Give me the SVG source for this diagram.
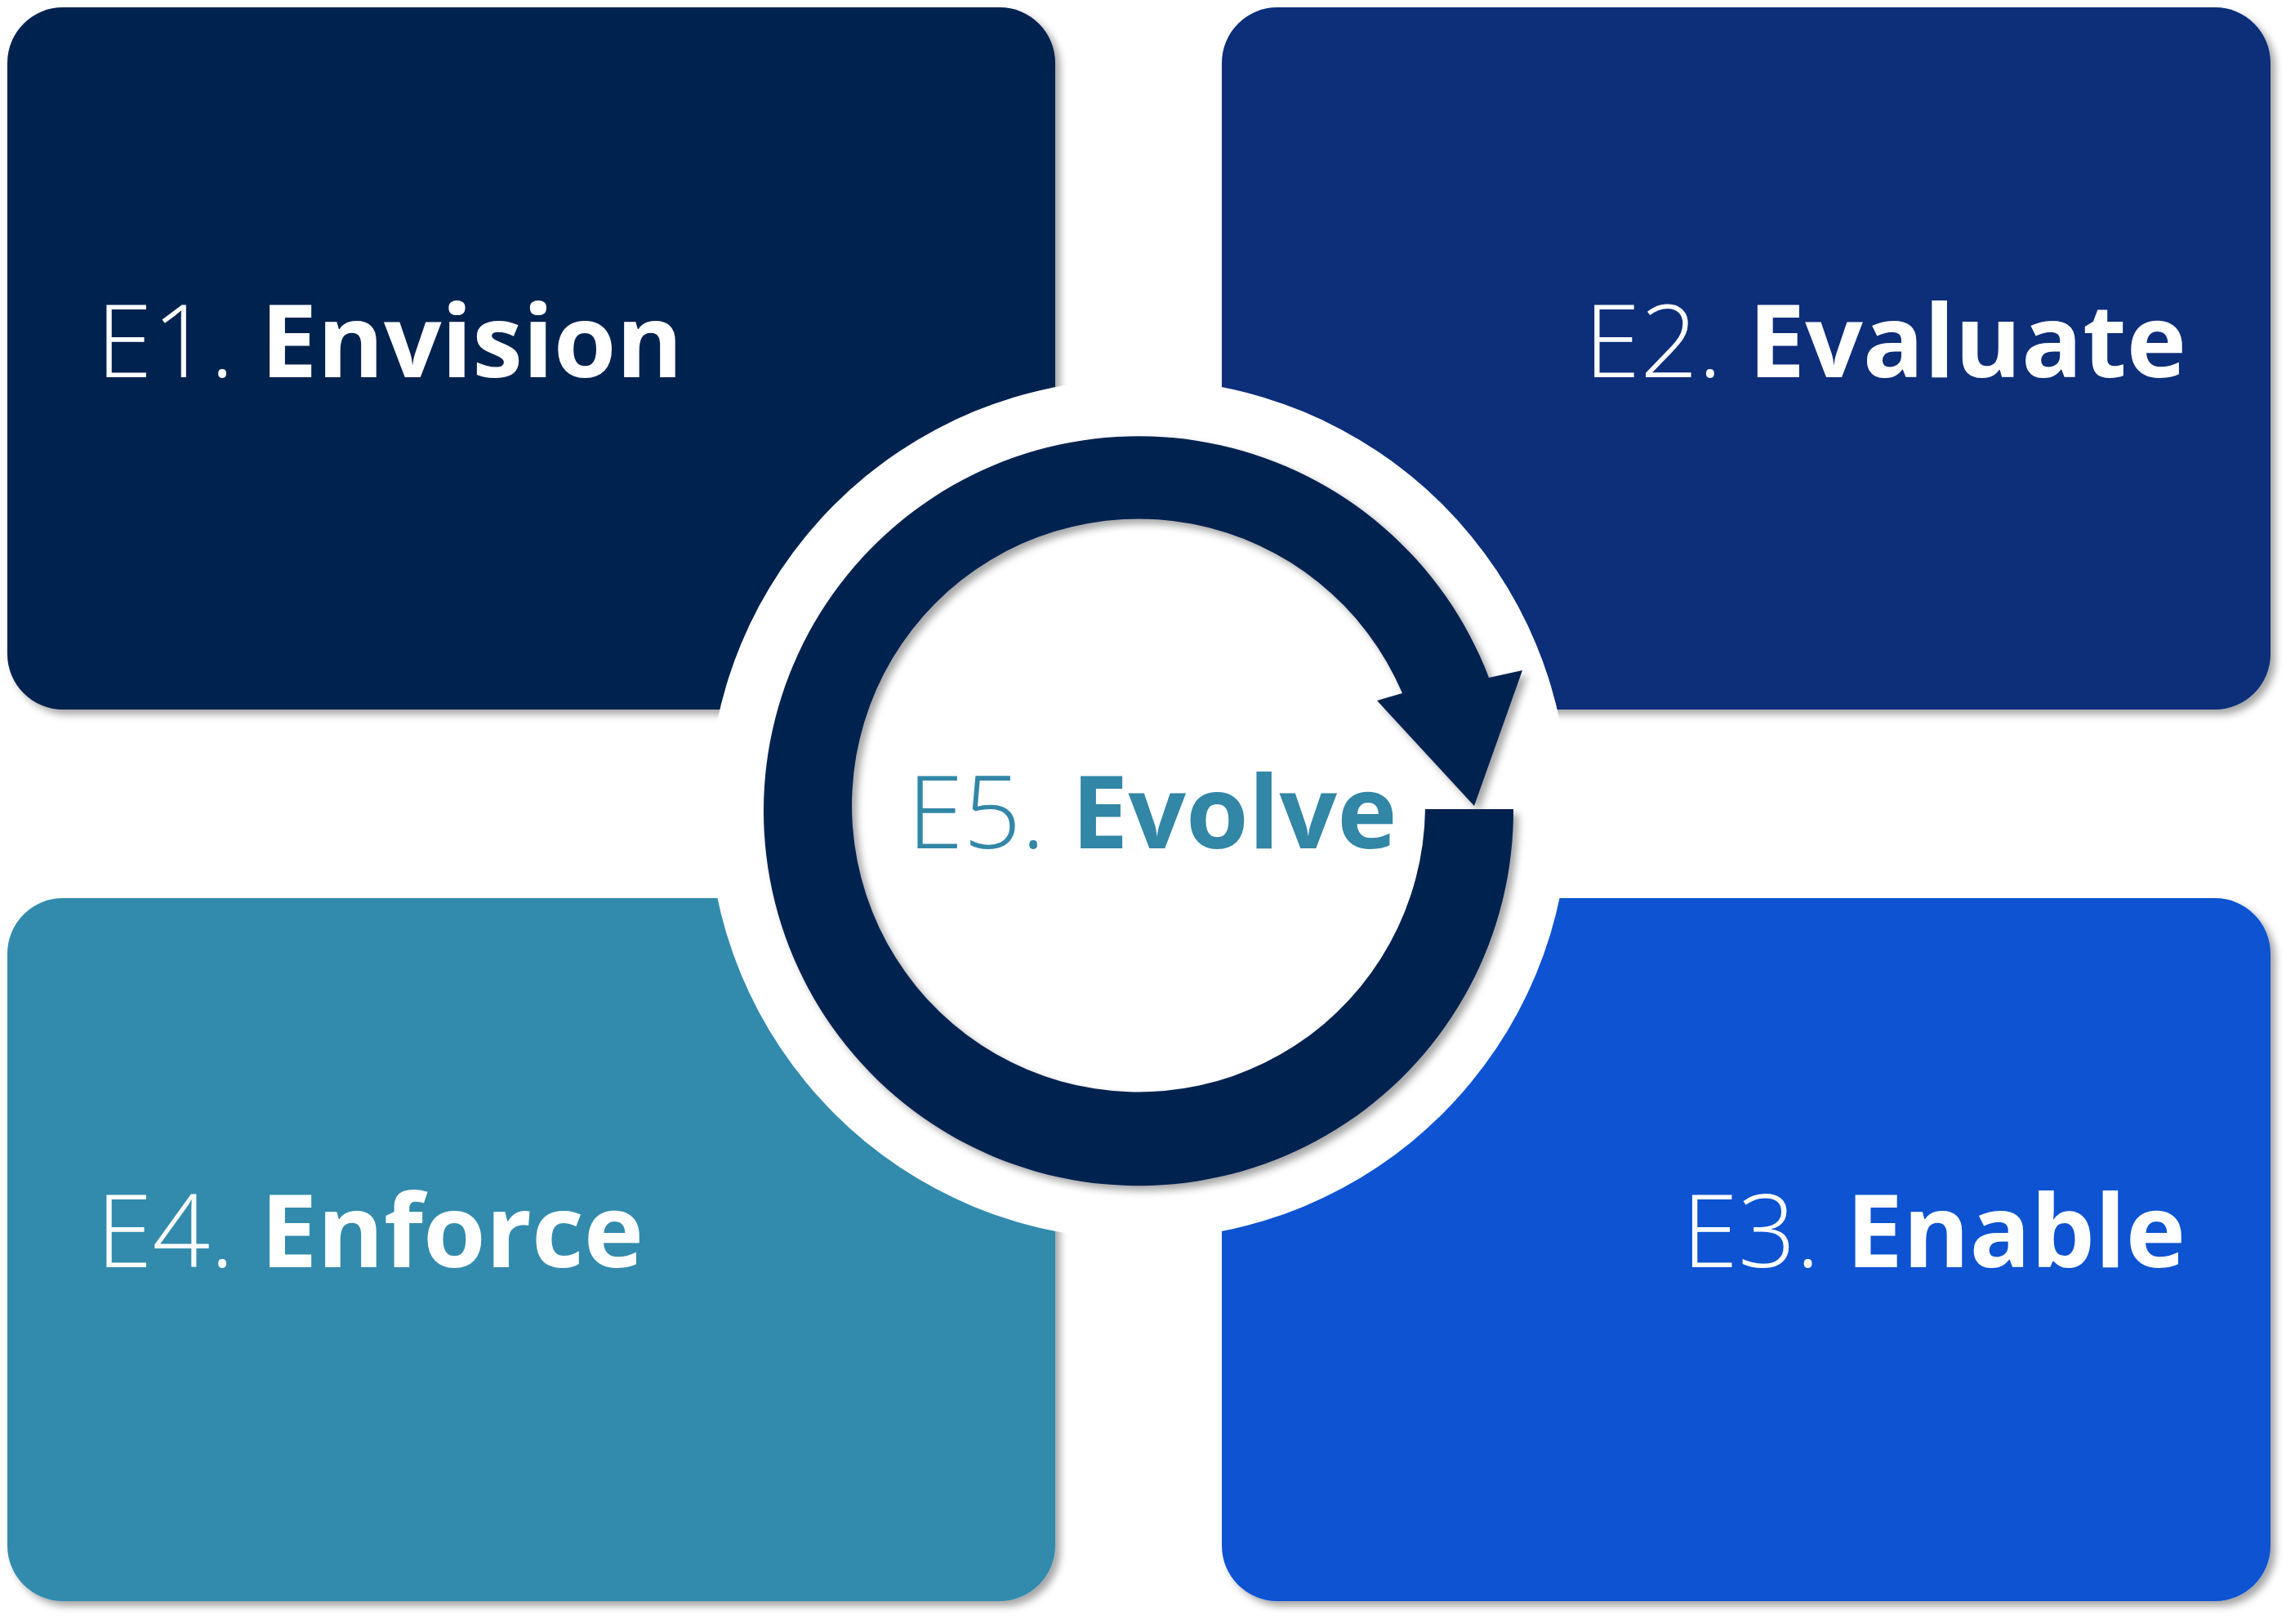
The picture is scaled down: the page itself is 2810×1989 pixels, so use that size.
<svg xmlns="http://www.w3.org/2000/svg" width="2810" height="1989" viewBox="0 0 2810 1989">
<style>
.t{font-family:"Open Sans","Liberation Sans",sans-serif;font-size:124px;fill:#fff}
.l{font-weight:300}
.b{font-weight:700}
</style>
<defs>
<filter id="sh" x="-10%" y="-10%" width="120%" height="120%">
<feDropShadow dx="6" dy="6" stdDeviation="5" flood-color="#000" flood-opacity="0.35"/>
</filter>
<mask id="cut">
<rect width="2810" height="1989" fill="#fff"/>
<circle cx="1394" cy="991" r="527" fill="#000"/>
</mask>
</defs>
<rect width="2810" height="1989" fill="#fff"/>
<g mask="url(#cut)">
<g id="e1"><rect x="9" y="9" width="1283" height="860" rx="68" fill="#052050" filter="url(#sh)"/></g>
<g id="e2"><rect x="1496" y="9" width="1284" height="860" rx="68" fill="#072e79" filter="url(#sh)"/></g>
<g id="e4"><rect x="9" y="1100" width="1283" height="861" rx="68" fill="#338bac" filter="url(#sh)"/></g>
<g id="e3"><rect x="1496" y="1100" width="1284" height="861" rx="68" fill="#0b53d2" filter="url(#sh)"/></g>
</g>
<g id="connectors">
<path d="M1745,991 L1853,991 A459,459 0 1 1 1823,830 L1864,821 L1805,987 L1686,858 L1717,849 A351,351 0 1 0 1745,991 Z" fill="#052050" filter="url(#sh)"/>
</g>
<text class="t" x="118" y="462"><tspan class="l">E1. </tspan><tspan class="b">Envision</tspan></text>
<text class="t" x="2677" y="462" text-anchor="end"><tspan class="l">E2. </tspan><tspan class="b">Evaluate</tspan></text>
<text class="t" x="2676" y="1552" text-anchor="end"><tspan class="l">E3. </tspan><tspan class="b">Enable</tspan></text>
<text class="t" x="118" y="1552"><tspan class="l">E4. </tspan><tspan class="b">Enforce</tspan></text>
<g id="e5"><text class="t" x="1111" y="1039" style="fill:#3286a6"><tspan class="l">E5. </tspan><tspan class="b">Evolve</tspan></text></g>
</svg>
